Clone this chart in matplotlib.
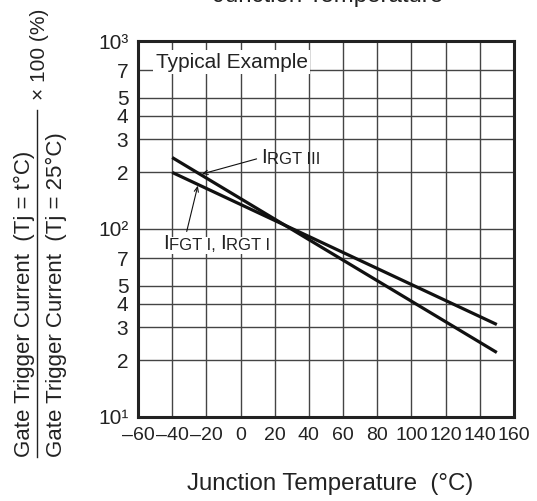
"""
Gate trigger current vs junction temperature (typical example)
"""

import matplotlib
matplotlib.use("Agg")
import matplotlib.pyplot as plt
from matplotlib.lines import Line2D

plt.rcParams["font.family"] = ["Liberation Sans", "DejaVu Sans"]

# --- data ---
temp = [-40, 150]
irgt_iii = [240, 22]
ifgt_i = [200, 31]

x_ticks = list(range(-60, 161, 20))
x_labels = [str(t).replace("-", "\u2013") for t in x_ticks]
y_ticks = [10, 20, 30, 40, 50, 70, 100, 200, 300, 400, 500, 700, 1000]
y_labels = ["10\u00b9", "2", "3", "4", "5", "7", "10\u00b2",
            "2", "3", "4", "5", "7", "10\u00b3"]

TXT = "#222222"

fig = plt.figure(figsize=(5.37, 5.01), dpi=100)
ax = fig.add_axes([0.257, 0.168, 0.700, 0.750])

ax.set_yscale("log")
ax.set_xlim(-60, 160)
ax.set_ylim(10, 1000)
ax.set_xticks(x_ticks)
ax.set_xticklabels(x_labels)
ax.set_yticks(y_ticks)
ax.set_yticklabels(y_labels)
ax.minorticks_off()
ax.tick_params(axis="x", length=0, labelsize=14, pad=7, colors=TXT)
ax.tick_params(axis="y", length=0, labelsize=15, pad=7, colors=TXT)
ax.grid(True, color="#444444", linewidth=1.0)
for sp in ax.spines.values():
    sp.set_linewidth(2.2)
    sp.set_color(TXT)

# --- curves ---
ax.plot(temp, irgt_iii, color="#111111", linewidth=2.3, solid_capstyle="butt")
ax.plot(temp, ifgt_i, color="#111111", linewidth=2.3, solid_capstyle="butt")

# --- texts ---
ax.text(0.047, 0.944, "Typical Example", transform=ax.transAxes, fontsize=15,
        color=TXT, va="center", ha="left",
        bbox=dict(facecolor="white", edgecolor="none", pad=2))

arrow = dict(arrowstyle="->,head_length=0.35,head_width=0.15", color="#111111",
             linewidth=0.8, shrinkA=0, shrinkB=0)

# IRGT III label (small caps look)
ax.annotate("", xy=(-22.7, 196), xytext=(9.4, 236), arrowprops=arrow)
t1 = ax.text(12, 240, "I", fontsize=15, color=TXT, va="center", ha="left")
ax.annotate("RGT III", xy=(1, 0), xycoords=t1, fontsize=12, color=TXT,
            va="bottom", ha="left")

# IFGT I, IRGT I label
box = dict(facecolor="white", edgecolor="none", pad=0.8)
ax.annotate("", xy=(-25, 170), xytext=(-31.5, 97), arrowprops=arrow)
t2 = ax.text(-45.4, 84, "I", fontsize=15, color=TXT, va="center", ha="left", bbox=box)
t3 = ax.annotate("FGT I, ", xy=(1, 0), xycoords=t2, fontsize=12, color=TXT,
                 va="bottom", ha="left", bbox=box)
t4 = ax.annotate("I", xy=(1, 0), xycoords=t3, fontsize=15, color=TXT,
                 va="bottom", ha="left", bbox=box)
ax.annotate("RGT I", xy=(1, 0), xycoords=t4, fontsize=12, color=TXT,
            va="bottom", ha="left", bbox=box)

# --- axis labels ---
fig.text(0.614, 0.034, "Junction Temperature  (\u00b0C)", fontsize=17.3,
         color=TXT, ha="center", va="center")
fig.text(0.611, 0.996, "Junction Temperature", fontsize=17.3,
         color=TXT, ha="center", va="baseline")

fig.text(0.045, 0.088, "Gate Trigger Current  (Tj = t\u00b0C)", fontsize=16,
         color=TXT, rotation=90, ha="center", va="bottom")
fig.text(0.106, 0.088, "Gate Trigger Current  (Tj = 25\u00b0C)", fontsize=16,
         color=TXT, rotation=90, ha="center", va="bottom")
fig.add_artist(Line2D([0.069, 0.069], [0.088, 0.780], color=TXT,
                      linewidth=1.0, transform=fig.transFigure))
fig.text(0.074, 0.800, "\u00d7 100 (%)", fontsize=15, color=TXT,
         rotation=90, ha="center", va="bottom")

fig.savefig("out.png", dpi=100)
